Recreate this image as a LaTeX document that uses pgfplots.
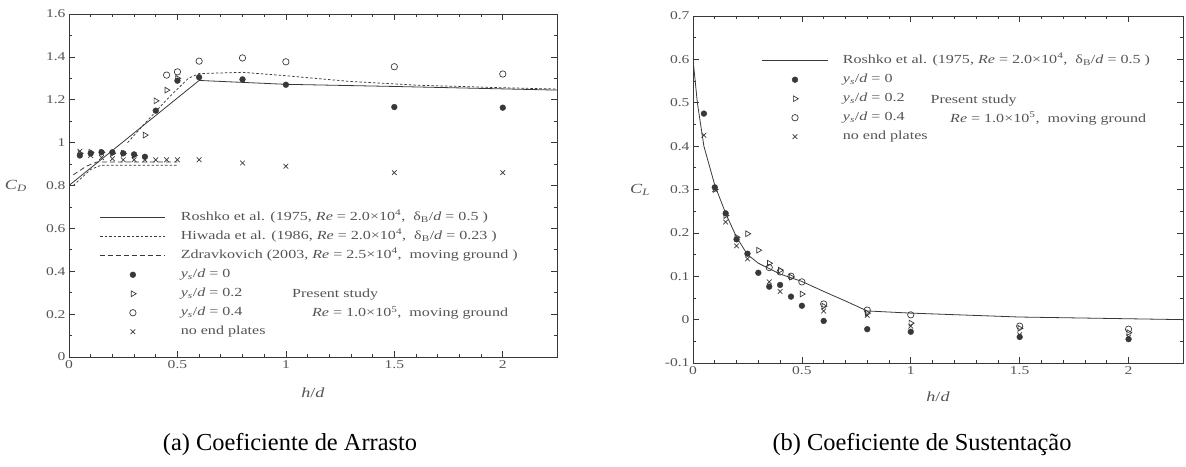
\documentclass[border=0pt]{standalone}
\usepackage{pgfplots}
\pgfplotsset{compat=1.18}
\usepackage{fontspec}
\setmainfont{Liberation Serif}
% the figure lettering is set a little wider than the caption text
\newfontfamily\figfont[FakeStretch=1.3]{Liberation Serif}

\definecolor{ink}{gray}{0.22}
\definecolor{txt}{gray}{0.33}

\newcommand\legfont{\figfont\fontsize{12.4}{14}\selectfont}
\newcommand\tickfont{\figfont\fontsize{12}{14}\selectfont}
\newcommand\labfont{\figfont\fontsize{14}{16}\selectfont}

\pgfplotsset{
  lineleg/.style={legend image code/.code={\draw[##1] (0bp,0bp) -- (65bp,0bp);}},
  markleg/.style={legend image code/.code={\path[draw=none] (0bp,0bp) (65bp,0bp); \draw[##1] plot coordinates {(32.5bp,0bp)};}},
  paper/.style={
    scale only axis,
    axis line style={ink, line width=0.9pt},
    tick style={ink, line width=0.7pt},
    major tick length=6bp, minor tick length=3bp,
    tick align=inside,
    xticklabel style={font=\tickfont, text=txt},
    yticklabel style={font=\tickfont, text=txt},
    /pgf/number format/assume math mode=true,
    xmin=0, xmax=2.25,
    xtick={0,0.5,1,1.5,2}, minor x tick num=4,
    minor y tick num=1,
    legend cell align=left,
    legend style={draw=none, fill=none, font=\legfont,
      text=txt, anchor=north west, inner sep=0pt, outer sep=0pt,
      row sep=8bp, column sep=15bp,
      nodes={inner sep=0pt, text height=8bp, text depth=3bp}},
  },
  roshko/.style={ink, line width=0.8pt, lineleg},
  hiwada/.style={ink, line width=0.75pt, dash pattern=on 2.5bp off 2bp, lineleg},
  zdrav/.style={ink, line width=0.75pt, dash pattern=on 5bp off 3bp, lineleg},
  ys0/.style={only marks, mark=*, mark size=2.9bp, mark options={draw=ink, fill=ink}, markleg},
  ys2/.style={only marks, mark=triangle, mark size=3.3bp, mark options={draw=ink, fill=white, rotate=-90, line width=0.7pt}, markleg},
  ys4/.style={only marks, mark=o, mark size=3.2bp, mark options={draw=ink, fill=white, line width=0.7pt}, markleg},
  noep/.style={only marks, mark=x, mark size=3.3bp, mark options={draw=ink, line width=0.7pt}, markleg},
}

\begin{document}
\begin{tikzpicture}
\useasboundingbox (0,0) rectangle (1186bp,467bp);

% ---------------- Drag coefficient ----------------
\begin{axis}[paper,
  at={(69bp,110bp)}, anchor=south west,
  width=488bp, height=343bp,
  ymin=0, ymax=1.6, ytick={0,0.2,...,1.6},
  unbounded coords=jump,
  xlabel={\textit{h}/\textit{d}},
  ylabel={\textit{C}\textsubscript{\textit{D}}},
  every axis x label/.style={at={(rel axis cs:0.5,-0.105)}, anchor=center, font=\labfont, text=txt},
  every axis y label/.style={at={(rel axis cs:-0.109,0.5)}, anchor=center, font=\labfont, text=txt},
  legend style={at={(rel axis cs:0.0635,0.422)}},
]
\addplot[roshko] coordinates {(0,0.8) (0.6,1.29) (1,1.272) (1.5,1.262) (2.25,1.245)};
\addlegendentry{Roshko et al. (1975, \textit{Re} = 2.0×10\textsuperscript{4}, \ δ\textsubscript{B}/\textit{d} = 0.5 )}
\addplot[hiwada] coordinates {(0.02,0.80) (0.1,0.875) (0.15,0.895) (0.5,0.895) (0.5,nan)
  (0.27,1.0) (0.35,1.09) (0.45,1.2) (0.55,1.3) (0.6,1.322) (0.8,1.328) (1.0,1.312) (1.3,1.285) (1.6,1.268) (2.0,1.256) (2.25,1.25)};
\addlegendentry{Hiwada et al. (1986, \textit{Re} = 2.0×10\textsuperscript{4}, \ δ\textsubscript{B}/\textit{d} = 0.23 )}
\addplot[zdrav] coordinates {(0.02,0.85) (0.08,0.89) (0.13,0.91) (0.5,0.91)};
\addlegendentry{Zdravkovich (2003, \textit{Re} = 2.5×10\textsuperscript{4}, \ moving ground )}
\addplot[ys0] coordinates {(0.05,0.94) (0.1,0.95) (0.15,0.955) (0.2,0.955) (0.25,0.95) (0.3,0.945) (0.35,0.934)
  (0.4,1.149) (0.5,1.289) (0.6,1.305) (0.8,1.295) (1,1.27) (1.5,1.166) (2,1.163)};
\addlegendentry{\textit{y}\textsubscript{\textit{s}}/\textit{d} = 0}
\addplot[ys2] coordinates {(0.05,0.95) (0.1,0.955) (0.15,0.955) (0.2,0.95) (0.25,0.95) (0.3,0.94)
  (0.35,1.035) (0.4,1.195) (0.45,1.245) (0.5,1.3)};
\addlegendentry{\textit{y}\textsubscript{\textit{s}}/\textit{d} = 0.2}
\addplot[ys4] coordinates {(0.45,1.315) (0.5,1.33) (0.6,1.38) (0.8,1.395) (1,1.377) (1.5,1.354) (2,1.32)};
\addlegendentry{\textit{y}\textsubscript{\textit{s}}/\textit{d} = 0.4}
\addplot[noep] coordinates {(0.05,0.96) (0.1,0.94) (0.15,0.93) (0.2,0.925) (0.25,0.92) (0.3,0.92) (0.35,0.92)
  (0.4,0.92) (0.45,0.92) (0.5,0.92) (0.6,0.92) (0.8,0.905) (1,0.89) (1.5,0.86) (2,0.86)};
\addlegendentry{no end plates}
\node[anchor=west, font=\legfont, text=txt, inner sep=0pt] at (axis cs:1.028,0.29) {Present study};
\node[anchor=west, font=\legfont, text=txt, inner sep=0pt] at (axis cs:1.12,0.205) {\textit{Re} = 1.0×10\textsuperscript{5}, \ moving ground};
\end{axis}

% ---------------- Lift coefficient ----------------
\begin{axis}[paper,
  at={(693bp,104bp)}, anchor=south west,
  width=490bp, height=347bp,
  ymin=-0.1, ymax=0.7, ytick={-0.1,0,0.1,0.2,0.3,0.4,0.5,0.6,0.7},
  xlabel={\textit{h}/\textit{d}},
  ylabel={\textit{C}\textsubscript{\textit{L}}},
  every axis x label/.style={at={(rel axis cs:0.5,-0.098)}, anchor=center, font=\labfont, text=txt},
  every axis y label/.style={at={(rel axis cs:-0.108,0.5)}, anchor=center, font=\labfont, text=txt},
  legend style={at={(rel axis cs:0.141,0.887)}},
]
\addplot[roshko] coordinates {(0,0.6) (0.02,0.5) (0.05,0.4) (0.1,0.31) (0.15,0.245) (0.2,0.19) (0.25,0.15)
  (0.3,0.13) (0.4,0.105) (0.5,0.088) (0.6,0.065) (0.7,0.043) (0.8,0.02) (1,0.015) (1.5,0.006) (2,0.002) (2.25,0.0)};
\addlegendentry{Roshko et al. (1975, \textit{Re} = 2.0×10\textsuperscript{4}, \ δ\textsubscript{B}/\textit{d} = 0.5 )}
\addplot[ys0] coordinates {(0.05,0.475) (0.1,0.305) (0.15,0.245) (0.2,0.185) (0.25,0.152) (0.3,0.108) (0.35,0.076)
  (0.4,0.08) (0.45,0.053) (0.5,0.032) (0.6,-0.003) (0.8,-0.022) (1,-0.028) (1.5,-0.04) (2,-0.045)};
\addlegendentry{\textit{y}\textsubscript{\textit{s}}/\textit{d} = 0}
\addplot[ys2] coordinates {(0.1,0.3) (0.15,0.24) (0.2,0.19) (0.25,0.198) (0.3,0.16) (0.35,0.13) (0.4,0.114)
  (0.45,0.098) (0.5,0.059) (0.6,0.031) (0.8,0.015) (1,-0.008) (1.5,-0.02) (2,-0.03)};
\addlegendentry{\textit{y}\textsubscript{\textit{s}}/\textit{d} = 0.2}
\addplot[ys4] coordinates {(0.35,0.12) (0.4,0.11) (0.45,0.1) (0.5,0.087) (0.6,0.036) (0.8,0.022) (1,0.011) (1.5,-0.015) (2,-0.022)};
\addlegendentry{\textit{y}\textsubscript{\textit{s}}/\textit{d} = 0.4}
\addplot[noep] coordinates {(0.05,0.425) (0.1,0.3) (0.15,0.225) (0.2,0.17) (0.25,0.14) (0.35,0.087) (0.4,0.065)
  (0.6,0.02) (0.8,0.01) (1,-0.015) (1.5,-0.035) (2,-0.04)};
\addlegendentry{no end plates}
\node[anchor=west, font=\legfont, text=txt, inner sep=0pt] at (axis cs:1.09,0.505) {Present study};
\node[anchor=west, font=\legfont, text=txt, inner sep=0pt] at (axis cs:1.18,0.464) {\textit{Re} = 1.0×10\textsuperscript{5}, \ moving ground};
\end{axis}

% ---------------- Captions ----------------
\node[font=\fontsize{24.5}{28}\selectfont] at (290bp,22bp) {(a) Coeficiente de Arrasto};
\node[font=\fontsize{24.5}{28}\selectfont] at (922bp,22bp) {(b) Coeficiente de Sustentação};
\end{tikzpicture}
\end{document}
